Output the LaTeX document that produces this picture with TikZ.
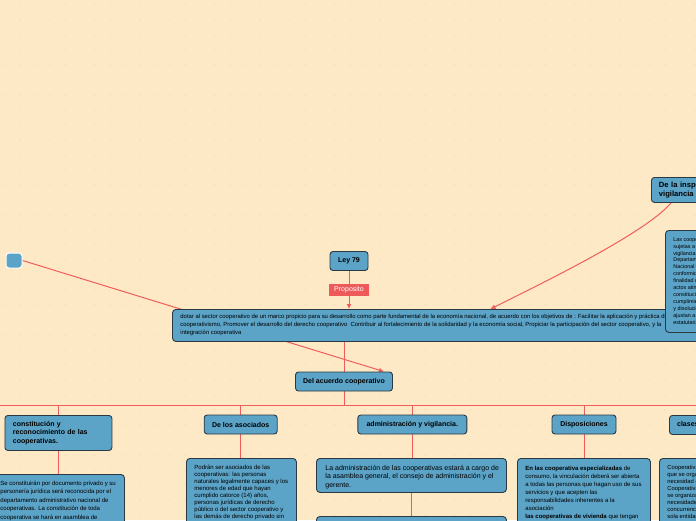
\documentclass[tikz,border=0pt]{standalone}
\usepackage{fontspec}
\setmainfont{Liberation Sans}
\usetikzlibrary{arrows.meta}
\definecolor{Paper}{HTML}{FEE9C6}
\definecolor{Speck}{HTML}{EFD3A8}
\definecolor{Topic}{HTML}{5BA3C7}
\definecolor{Rim}{HTML}{2B3942}
\definecolor{Wire}{HTML}{EF5D5A}
\definecolor{TagRed}{HTML}{EE5A5A}
\pgfdeclarelayer{paper}
\pgfdeclarelayer{wires}
\pgfsetlayers{paper,wires,main}
\newcommand{\notelines}[3]{\parbox[t][#2][t]{#1}{\begin{tabular}[t]{@{}l@{}}#3\end{tabular}}}

\begin{document}
\begin{tikzpicture}[x=1pt,y=-1pt,every node/.style={text=black},
  topic/.style={draw=Rim,fill=Topic,line width=0.9pt,rounded corners=3pt,inner sep=0pt,minimum height=19pt,font=\bfseries\fontsize{7}{8.5}\selectfont},
  note/.style={draw=Rim,fill=Topic,line width=0.9pt,rounded corners=3.5pt,inner xsep=8pt,anchor=north west},
  link/.style={draw=Wire,line width=1pt},
  tip/.style={link,-{Latex[length=5pt,width=5pt]}},
  tag/.style={fill=TagRed,text=white,inner sep=0pt,minimum width=40pt,minimum height=12pt,font=\fontsize{7}{8}\selectfont}]
\useasboundingbox (0,0) rectangle (696,520);
\begin{pgfonlayer}{paper}
\fill[Paper] (0,0) rectangle (696,520);
\foreach \i in {0,...,46} \foreach \j in {0,...,35} \fill[Speck] (\i*15+5,\j*15+5) circle (0.7pt);
\end{pgfonlayer}
\node[draw=white,fill=Topic,line width=1pt,rounded corners=3pt,minimum width=16pt,minimum height=15pt,inner sep=0pt] (lone) at (14,260.5) {};
\node[topic,anchor=north west,minimum width=95pt,minimum height=25pt,text width=80pt,align=left,font=\bfseries\fontsize{7.6}{8.2}\selectfont] (insp) at (651,177) {De la inspección y\\vigilancia};
\node[topic,minimum width=38pt] (ley) at (349,261) {Ley 79};
\node[note,inner ysep=3.2pt,font=\fontsize{5.9}{8}\selectfont] (obj) at (172,309) {\notelines{514pt}{25.6pt}{dotar al sector cooperativo de un marco propicio para su desarrollo como parte fundamental de la economía nacional, de acuerdo con los objetivos de : Facilitar la aplicación y práctica del\\cooperativismo, Promover el desarrollo del derecho cooperativo\ \ Contribuir al fortalecimiento de la solidaridad y la economía social, Propiciar la participación del sector cooperativo, y la\\integración cooperativa}};
\node[note,inner ysep=6pt,font=\fontsize{5.4}{6.9}\selectfont] (inspnote) at (665,230) {\notelines{84pt}{90pt}{Las cooperativas estarán\\sujetas a la inspección y\\vigilancia permanente del\\Departamento Administrativo\\Nacional de Cooperativas, de\\conformidad con la ley, con la\\finalidad de asegurar que los\\actos atinentes a su\\constitución, funcionamiento,\\cumplimiento de su objeto social\\y disolución y liquidación, se\\ajustan a las normas legales y\\estatutarias.}};
\node[topic,minimum width=97pt] (acuerdo) at (344,381.5) {Del acuerdo cooperativo};
\coordinate (busw) at (-10,405);
\coordinate (buse) at (710,405);
\node[topic,anchor=north west,minimum width=107pt,minimum height=35pt,text width=91pt,align=left] (constit) at (4.5,415) {constitución y\\reconocimiento de las\\cooperativas.};
\node[topic,minimum width=73pt] (asoc) at (240.7,424.5) {De los asociados};
\node[topic,minimum width=109pt] (admin) at (412.3,424.5) {administración y vigilancia.};
\node[topic,minimum width=64pt] (dispo) at (584,424.5) {Disposiciones};
\node[topic,anchor=north west,minimum width=92pt] (clases) at (669,415) {clases de cooperativas};
\node[note,inner ysep=5.2pt,font=\fontsize{6}{8.4}\selectfont] (constitnote) at (-8,474) {\notelines{116pt}{110pt}{Se constituirán por documento privado y su\\personería jurídica será reconocida por el\\departamento administrativo nacional de\\cooperativas. La constitución de toda\\cooperativa se hará en asamblea de}};
\node[note,inner ysep=5.9pt,font=\fontsize{6}{7}\selectfont] (asocnote) at (186,458) {\notelines{94pt}{108pt}{Podrán ser asociados de las\\cooperativas: las personas\\naturales legalmente capaces y los\\menores de edad que hayan\\cumplido catorce (14) años,\\personas jurídicas de derecho\\público o del sector cooperativo y\\las demás de derecho privado sin}};
\node[note,inner xsep=9pt,inner ysep=6.3pt,font=\fontsize{7}{8.3}\selectfont] (adminnote) at (316,458) {\notelines{172pt}{21.4pt}{La administración de las cooperativas estará a cargo de\\la asamblea general, el consejo de administración y el\\gerente.}};
\node[note,minimum width=190pt,minimum height=60pt] (admin2) at (316,516) {};
\node[note,inner ysep=6.1pt,font=\fontsize{6}{8.1}\selectfont] (disponote) at (517,458) {\notelines{117pt}{108pt}{\textbf{En las cooperativa especializadas} de\\consumo, la vinculación deberá ser abierta\\a todas las personas que hagan uso de sus\\servicios y que acepten las\\responsabilidades inherentes a la\\asociación\\\textbf{las cooperativas de vivienda} que tengan}};
\node[note,inner ysep=5.8pt,font=\fontsize{5.8}{7}\selectfont] (clasesnote) at (659,458) {\notelines{94pt}{108pt}{Cooperativas especializadas: las\\que se organizan para atender una\\necesidad específica,\\Cooperativas multiactivas: las que\\se organizan para atender varias\\necesidades, mediante\\concurrencia de servicios en una\\sola entidad jurídica.}};
\begin{pgfonlayer}{wires}
\draw[tip] (lone.east) -- ([xshift=-9pt]acuerdo.north east);
\draw[tip] ([xshift=20pt]insp.south west) .. controls +(-25,30) and +(50,-25) .. ([xshift=53pt]obj.north);
\draw[tip] (ley.south) -- (ley.south |- obj.north) node[tag,midway] (prop) {Proposito};
\draw[link] (acuerdo.north |- obj.south) -- (acuerdo.north);
\draw[link] (busw) -- (buse);
\draw[link] (acuerdo.south) -- (acuerdo.south |- busw);
\foreach \kid in {constit,asoc,admin,dispo,clases} \draw[link] (\kid.north |- busw) -- (\kid.north);
\draw[link] (constit.south) -- (constit.south |- constitnote.north);
\draw[link] (asoc.south) -- (asoc.south |- asocnote.north);
\draw[link] (admin.south) -- (admin.south |- adminnote.north);
\draw[link] (adminnote.south) -- (admin2.north);
\draw[link] (dispo.south) -- (dispo.south |- disponote.north);
\draw[link] (clases.south) -- (clases.south |- clasesnote.north);
\end{pgfonlayer}
\end{tikzpicture}
\end{document}
